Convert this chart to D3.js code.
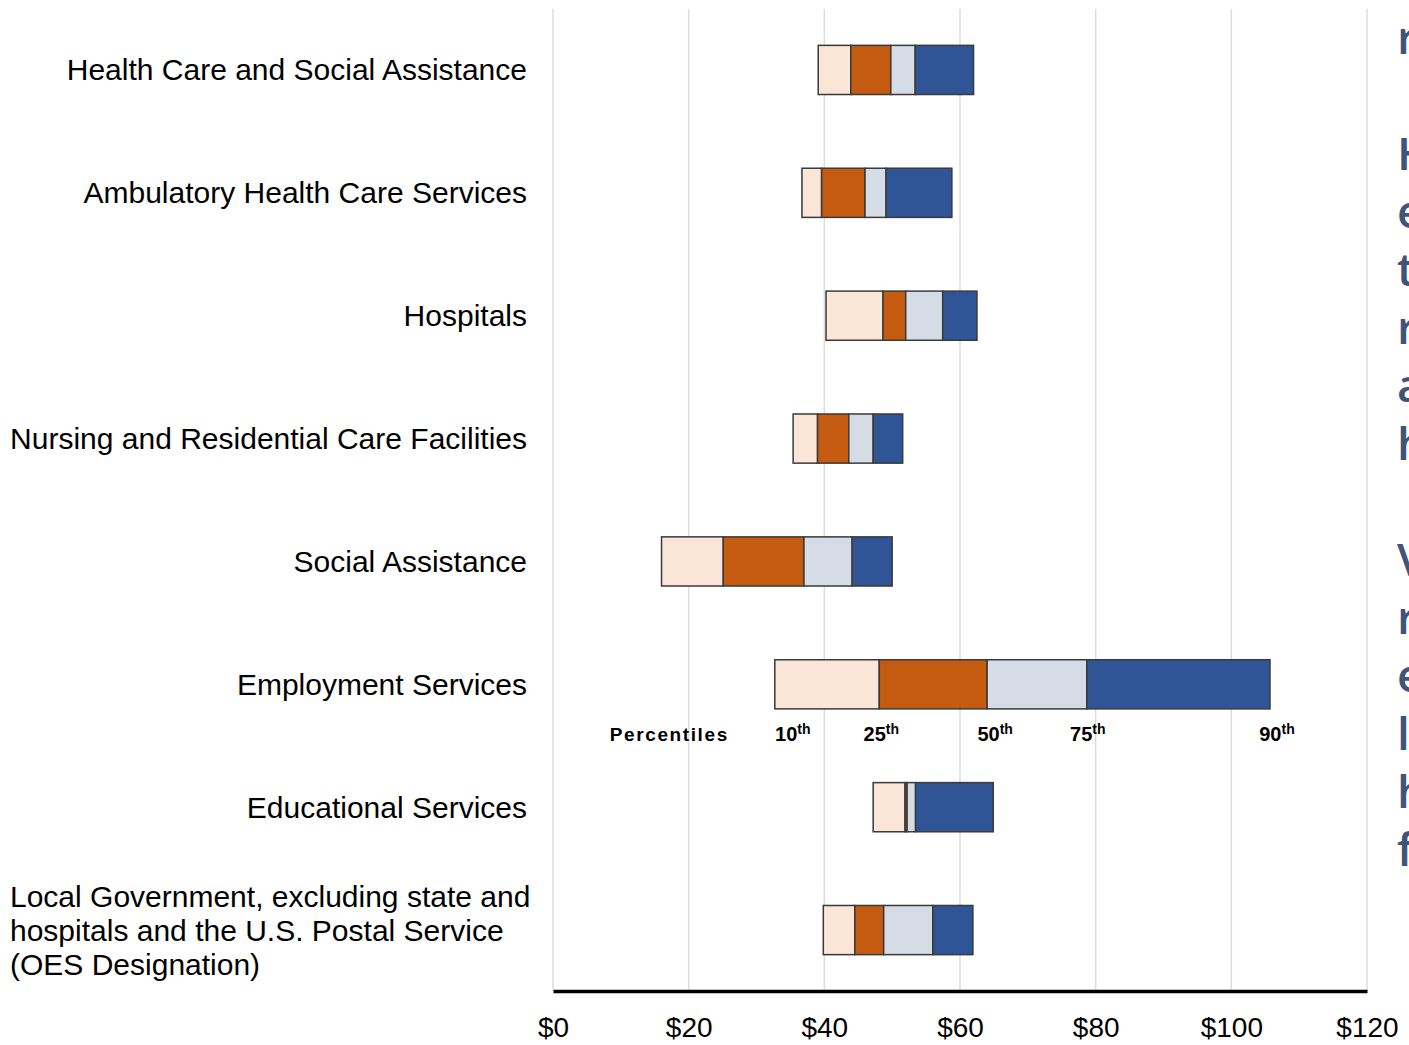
<!DOCTYPE html>
<html>
<head>
<meta charset="utf-8">
<script src="https://cdn.jsdelivr.net/npm/d3@7"></script>
<style>
  html, body { margin: 0; padding: 0; background: #fff; overflow: hidden; }
  svg { display: block; }
</style>
</head>
<body>
<svg id="chart" width="1409" height="1045"></svg>
<script>
// ---- data ----
const categories = [
  "Health Care and Social Assistance",
  "Ambulatory Health Care Services",
  "Hospitals",
  "Nursing and Residential Care Facilities",
  "Social Assistance",
  "Employment Services",
  "Educational Services",
  "Local Government, excluding state and\nhospitals and the U.S. Postal Service\n(OES Designation)"
];
const p10 = [39.1, 36.7, 40.25, 35.4, 16.0, 32.7, 47.2, 39.85];
const p25 = [43.9, 39.6, 48.65, 39.0, 25.1, 48.1, 51.9, 44.5];
const p50 = [49.8, 46.0, 52.0, 43.6, 37.0, 64.0, 52.2, 48.75];
const p75 = [53.4, 49.1, 57.45, 47.2, 44.1, 78.7, 53.45, 56.0];
const p90 = [62.0, 58.8, 62.5, 51.55, 50.0, 105.7, 64.9, 61.9];
const segmentColors = ["#FBE5D6", "#C55A11", "#D6DCE5", "#2F5597"];
const tickValues = [0, 20, 40, 60, 80, 100, 120];
const percentileLabels = ["10", "25", "50", "75", "90"];
const percentileTitle = "Percentiles";
const legendRow = "Employment Services";
const sideTextLines = ["r", "", "H", "e", "t", "r", "a", "h", "", "V", "r", "e", "l", "h", "f"];

// ---- layout ----
const svg = d3.select("#chart");
const x = d3.scaleLinear().domain([0, 120]).range([553, 1367]);
const y = d3.scaleBand().domain(categories).range([8.5, 991.5]).paddingInner(0.6).paddingOuter(0.3);

// gridlines
svg.append("g").selectAll("line").data(tickValues).join("line")
  .attr("x1", d => x(d)).attr("x2", d => x(d))
  .attr("y1", 9).attr("y2", 991)
  .attr("stroke", "#dcdcdc").attr("stroke-width", 1.5);

// bars
const rows = categories.map((c, i) => ({ c, v: [p10[i], p25[i], p50[i], p75[i], p90[i]] }));
const gBars = svg.append("g");
rows.forEach(r => {
  for (let k = 0; k < 4; k++) {
    gBars.append("rect")
      .attr("x", x(r.v[k]))
      .attr("width", Math.max(0, x(r.v[k + 1]) - x(r.v[k])))
      .attr("y", y(r.c))
      .attr("height", y.bandwidth())
      .attr("fill", segmentColors[k])
      .attr("stroke", "#3a3a3a")
      .attr("stroke-width", 1.5);
  }
});

// axis
const axis = d3.axisBottom(x).tickValues(tickValues).tickSize(0).tickPadding(26)
  .tickFormat(d => "$" + d);
const gAxis = svg.append("g").attr("transform", "translate(0,991)").call(axis);
gAxis.select(".domain").attr("stroke", "#000").attr("stroke-width", 3.5);
gAxis.selectAll("text")
  .attr("font-family", "Liberation Sans, Arial, sans-serif")
  .attr("font-size", 28).attr("fill", "#000");

// category labels
const gLab = svg.append("g")
  .attr("font-family", "Liberation Sans, Arial, sans-serif")
  .attr("font-size", 30).attr("fill", "#000");
categories.forEach(c => {
  const lines = c.split("\n");
  const cy = y(c) + y.bandwidth() / 2;
  if (lines.length === 1) {
    gLab.append("text").attr("x", 527).attr("y", cy).attr("dy", "0.35em")
      .attr("text-anchor", "end").text(c);
  } else {
    const lh = 34;
    lines.forEach((ln, j) => {
      gLab.append("text").attr("x", 10)
        .attr("y", cy + (j - (lines.length - 1) / 2) * lh)
        .attr("dy", "0.35em").attr("text-anchor", "start").text(ln);
    });
  }
});

// percentile legend under the Employment Services bar
const li = categories.indexOf(legendRow);
const ly = y(legendRow) + y.bandwidth() + 32;
const gLeg = svg.append("g")
  .attr("font-family", "Liberation Sans, Arial, sans-serif")
  .attr("font-weight", "bold").attr("fill", "#000");
gLeg.append("text").attr("x", x(p10[li]) - 165).attr("y", ly)
  .attr("font-size", 19).attr("letter-spacing", 1.6).text(percentileTitle);
const legVals = [p10[li], p25[li], p50[li], p75[li], p90[li]];
const legDx = [18, 2, 8, 1, 7];
percentileLabels.forEach((p, k) => {
  const t = gLeg.append("text").attr("x", x(legVals[k]) + legDx[k]).attr("y", ly)
    .attr("text-anchor", "middle").attr("font-size", 20);
  t.append("tspan").text(p);
  t.append("tspan").attr("dy", -7).attr("font-size", 14).text("th");
});

// clipped side text on the right edge
svg.append("g").selectAll("text").data(sideTextLines).join("text")
  .attr("x", 1397).attr("y", (d, i) => 54 + i * 58)
  .attr("font-family", "Open Sans, sans-serif")
  .attr("font-weight", 600).attr("font-size", 46)
  .attr("fill", "#3E5579").text(d => d);
</script>
</body>
</html>
